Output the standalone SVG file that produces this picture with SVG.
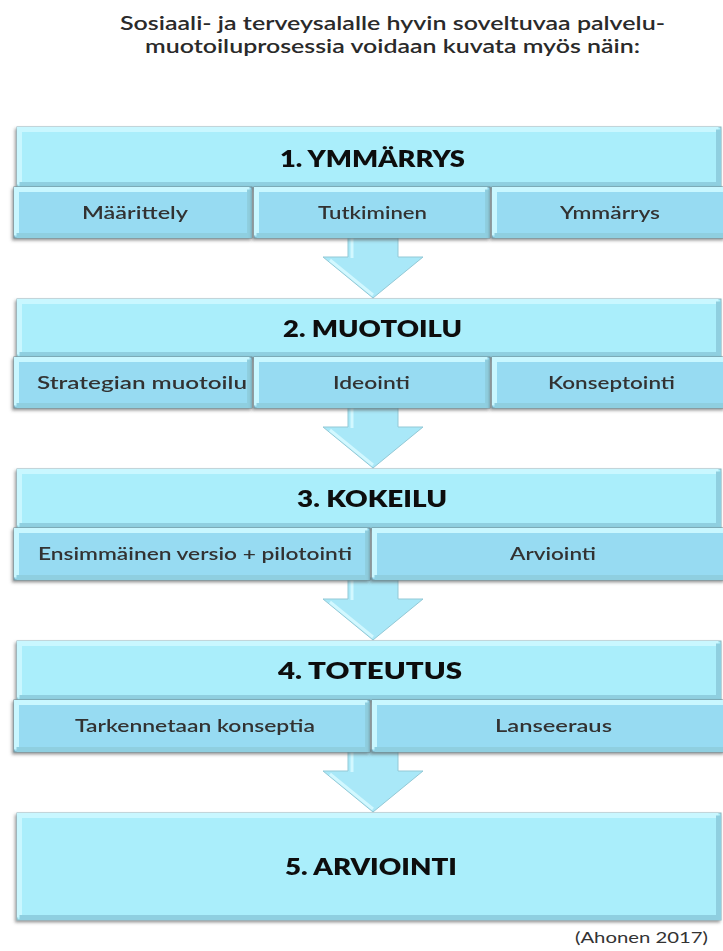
<svg xmlns="http://www.w3.org/2000/svg" width="723" height="951" viewBox="0 0 723 951">
<style>
.title{font-family:"Lato","Open Sans","Liberation Sans",sans-serif;font-size:19px;font-weight:600;fill:#2a2a2a;text-anchor:middle}
.head{font-family:"Lato","Open Sans","Liberation Sans",sans-serif;font-size:23px;font-weight:800;fill:#111;text-anchor:middle}
.sub{font-family:"Lato","Open Sans","Liberation Sans",sans-serif;font-size:17px;font-weight:600;fill:#333;text-anchor:middle}
.cite{font-family:"Lato","Open Sans","Liberation Sans",sans-serif;font-size:16px;fill:#333;text-anchor:middle}
.hbox{fill:#aaeefb;stroke:#8db4bd;stroke-width:1}
.sbox{fill:#97dbf2;stroke:#6f8d96;stroke-width:1}
.hi{fill:none;stroke:#c9f7ff;stroke-width:5;stroke-linejoin:miter}
.lo{fill:none;stroke:#8fcfe0;stroke-width:5;stroke-linejoin:miter}
.arrow{fill:#a9e8f8;stroke:#93c9d6;stroke-width:1}
.ahi{fill:none;stroke:#d2f8ff;stroke-width:3}
</style>
<defs>
<filter id="sh" x="-5%" y="-10%" width="110%" height="130%">
<feDropShadow dx="-1.5" dy="2" stdDeviation="1.5" flood-color="#555" flood-opacity="0.6"/>
</filter>
</defs>

<text class="title" x="392.5" y="30" textLength="545" lengthAdjust="spacingAndGlyphs">Sosiaali- ja terveysalalle hyvin soveltuvaa palvelu-</text>
<text class="title" x="392.5" y="53" textLength="495" lengthAdjust="spacingAndGlyphs">muotoiluprosessia voidaan kuvata myös näin:</text>

<g id="connectors">
<g id="arrow1">
<polygon class="arrow" points="348,236 398,236 398,257 423,257 373,298 323,257 348,257"/>
<path class="ahi" d="M352,238 V258 M330,260 L373,295"/>
</g>
<g id="arrow2">
<polygon class="arrow" points="348,406 398,406 398,427 423,427 373,468 323,427 348,427"/>
<path class="ahi" d="M352,408 V428 M330,430 L373,465"/>
</g>
<g id="arrow3">
<polygon class="arrow" points="348,578 398,578 398,599 423,599 373,640 323,599 348,599"/>
<path class="ahi" d="M352,580 V600 M330,602 L373,637"/>
</g>
<g id="arrow4">
<polygon class="arrow" points="348,750 398,750 398,771 423,771 373,812 323,771 348,771"/>
<path class="ahi" d="M352,752 V772 M330,774 L373,809"/>
</g>
</g>

<g id="stage1">
<g id="s1-head" filter="url(#sh)">
<rect class="hbox" x="17" y="127" width="704" height="60"/>
<path class="hi" d="M19.5,184.5 V129.5 H718.5"/>
<path class="lo" d="M19.5,184.5 H718.5 V129.5"/>
<text class="head" x="372.5" y="167" textLength="185" lengthAdjust="spacingAndGlyphs">1. YMMÄRRYS</text>
</g>
<g id="s1-a" filter="url(#sh)">
<rect class="sbox" x="14" y="187" width="238" height="51"/>
<path class="hi" d="M16.5,235.5 V189.5 H249.5"/>
<path class="lo" d="M16.5,235.5 H249.5 V189.5"/>
<text class="sub" x="135" y="219" textLength="106" lengthAdjust="spacingAndGlyphs">Määrittely</text>
</g>
<g id="s1-b" filter="url(#sh)">
<rect class="sbox" x="254" y="187" width="236" height="51"/>
<path class="hi" d="M256.5,235.5 V189.5 H487.5"/>
<path class="lo" d="M256.5,235.5 H487.5 V189.5"/>
<text class="sub" x="372.5" y="219" textLength="109" lengthAdjust="spacingAndGlyphs">Tutkiminen</text>
</g>
<g id="s1-c" filter="url(#sh)">
<rect class="sbox" x="492" y="187" width="233" height="51"/>
<path class="hi" d="M494.5,235.5 V189.5 H724"/>
<path class="lo" d="M494.5,235.5 H724"/>
<text class="sub" x="610" y="219" textLength="100" lengthAdjust="spacingAndGlyphs">Ymmärrys</text>
</g>
</g>

<g id="stage2">
<g id="s2-head" filter="url(#sh)">
<rect class="hbox" x="17" y="299" width="704" height="58"/>
<path class="hi" d="M19.5,354.5 V301.5 H718.5"/>
<path class="lo" d="M19.5,354.5 H718.5 V301.5"/>
<text class="head" x="372.5" y="337" textLength="179" lengthAdjust="spacingAndGlyphs">2. MUOTOILU</text>
</g>
<g id="s2-a" filter="url(#sh)">
<rect class="sbox" x="14" y="357" width="238" height="51"/>
<path class="hi" d="M16.5,405.5 V359.5 H249.5"/>
<path class="lo" d="M16.5,405.5 H249.5 V359.5"/>
<text class="sub" x="142" y="389" textLength="210" lengthAdjust="spacingAndGlyphs">Strategian muotoilu</text>
</g>
<g id="s2-b" filter="url(#sh)">
<rect class="sbox" x="254" y="357" width="236" height="51"/>
<path class="hi" d="M256.5,405.5 V359.5 H487.5"/>
<path class="lo" d="M256.5,405.5 H487.5 V359.5"/>
<text class="sub" x="371.5" y="389" textLength="77" lengthAdjust="spacingAndGlyphs">Ideointi</text>
</g>
<g id="s2-c" filter="url(#sh)">
<rect class="sbox" x="492" y="357" width="233" height="51"/>
<path class="hi" d="M494.5,405.5 V359.5 H724"/>
<path class="lo" d="M494.5,405.5 H724"/>
<text class="sub" x="611.5" y="389" textLength="127" lengthAdjust="spacingAndGlyphs">Konseptointi</text>
</g>
</g>

<g id="stage3">
<g id="s3-head" filter="url(#sh)">
<rect class="hbox" x="17" y="469" width="704" height="59"/>
<path class="hi" d="M19.5,525.5 V471.5 H718.5"/>
<path class="lo" d="M19.5,525.5 H718.5 V471.5"/>
<text class="head" x="372" y="507" textLength="150" lengthAdjust="spacingAndGlyphs">3. KOKEILU</text>
</g>
<g id="s3-a" filter="url(#sh)">
<rect class="sbox" x="14" y="528" width="356" height="52"/>
<path class="hi" d="M16.5,577.5 V530.5 H367.5"/>
<path class="lo" d="M16.5,577.5 H367.5 V530.5"/>
<text class="sub" x="195" y="560" textLength="314" lengthAdjust="spacingAndGlyphs">Ensimmäinen versio + pilotointi</text>
</g>
<g id="s3-b" filter="url(#sh)">
<rect class="sbox" x="372" y="528" width="353" height="52"/>
<path class="hi" d="M374.5,577.5 V530.5 H724"/>
<path class="lo" d="M374.5,577.5 H724"/>
<text class="sub" x="553" y="560" textLength="86" lengthAdjust="spacingAndGlyphs">Arviointi</text>
</g>
</g>

<g id="stage4">
<g id="s4-head" filter="url(#sh)">
<rect class="hbox" x="17" y="641" width="704" height="59"/>
<path class="hi" d="M19.5,697.5 V643.5 H718.5"/>
<path class="lo" d="M19.5,697.5 H718.5 V643.5"/>
<text class="head" x="370" y="679" textLength="184" lengthAdjust="spacingAndGlyphs">4. TOTEUTUS</text>
</g>
<g id="s4-a" filter="url(#sh)">
<rect class="sbox" x="14" y="700" width="356" height="52"/>
<path class="hi" d="M16.5,749.5 V702.5 H367.5"/>
<path class="lo" d="M16.5,749.5 H367.5 V702.5"/>
<text class="sub" x="195" y="732" textLength="240" lengthAdjust="spacingAndGlyphs">Tarkennetaan konseptia</text>
</g>
<g id="s4-b" filter="url(#sh)">
<rect class="sbox" x="372" y="700" width="353" height="52"/>
<path class="hi" d="M374.5,749.5 V702.5 H724"/>
<path class="lo" d="M374.5,749.5 H724"/>
<text class="sub" x="553.5" y="732" textLength="117" lengthAdjust="spacingAndGlyphs">Lanseeraus</text>
</g>
</g>

<g id="stage5" filter="url(#sh)">
<rect class="hbox" x="17" y="813" width="704" height="107"/>
<path class="hi" d="M19.5,917.5 V815.5 H718.5"/>
<path class="lo" d="M19.5,917.5 H718.5 V815.5"/>
<text class="head" x="371" y="875" textLength="172" lengthAdjust="spacingAndGlyphs">5. ARVIOINTI</text>
</g>

<text class="cite" x="641.5" y="943" textLength="133" lengthAdjust="spacingAndGlyphs">(Ahonen 2017)</text>
</svg>
